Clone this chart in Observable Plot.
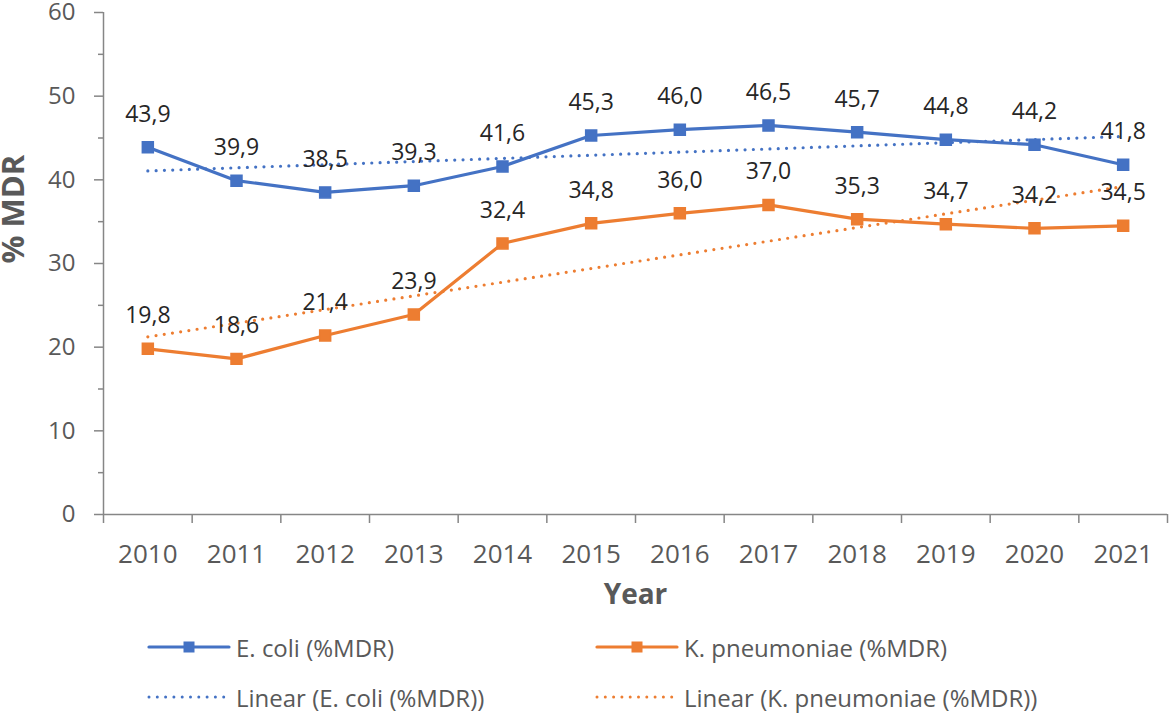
<!DOCTYPE html>
<html>
<head>
<meta charset="utf-8">
<script src="https://cdn.jsdelivr.net/npm/d3@7"></script>
<script src="https://cdn.jsdelivr.net/npm/@observablehq/plot@0.6"></script>
<style>
  body { margin: 0; background: #fff; }
  #wrap { position: relative; width: 1170px; height: 713px; font-family: "Open Sans", sans-serif; }
  .leg { position: absolute; display: flex; align-items: center; font-size: 24px; color: #595959; white-space: nowrap; }
  .leg svg { margin-right: 4px; }
</style>
</head>
<body>
<div id="wrap"></div>
<script>
const years = [2010, 2011, 2012, 2013, 2014, 2015, 2016, 2017, 2018, 2019, 2020, 2021];
const ecoli = [43.9, 39.9, 38.5, 39.3, 41.6, 45.3, 46.0, 46.5, 45.7, 44.8, 44.2, 41.8];
const kpneu = [19.8, 18.6, 21.4, 23.9, 32.4, 34.8, 36.0, 37.0, 35.3, 34.7, 34.2, 34.5];
const seriesNames = ["E. coli (%MDR)", "K. pneumoniae (%MDR)"];
const trendNames = ["Linear (E. coli (%MDR))", "Linear (K. pneumoniae (%MDR))"];
const colors = ["#4472C4", "#ED7D31"];
const yTicks = [0, 10, 20, 30, 40, 50, 60];
const yMinorTicks = [5, 15, 25, 35, 45, 55];

const data = [];
years.forEach((yr, i) => {
  data.push({year: yr, value: ecoli[i], series: seriesNames[0]});
  data.push({year: yr, value: kpneu[i], series: seriesNames[1]});
});
const bounds = [years[0] - 0.5, ...years.map(y => y + 0.5)];
const axisColor = "#868686";
const textColor = "#595959";

const chart = Plot.plot({
  width: 1170,
  height: 620,
  marginLeft: 103,
  marginRight: 3,
  marginTop: 12,
  marginBottom: 106,
  style: {fontFamily: "'Open Sans', sans-serif", background: "#fff", overflow: "visible"},
  x: {type: "linear", domain: [bounds[0], bounds[bounds.length - 1]]},
  y: {domain: [0, 60]},
  color: {domain: seriesNames, range: colors},
  marks: [
    Plot.axisY({ticks: yTicks, tickSize: 9, tickPadding: 19, fontSize: 24, stroke: axisColor, fill: textColor, strokeWidth: 1.5, label: null}),
    Plot.axisY({ticks: yMinorTicks, tickSize: 5, tickFormat: () => "", stroke: axisColor, strokeWidth: 1.5, label: null}),
    Plot.axisX({ticks: bounds, tickSize: 9, tickFormat: () => "", stroke: axisColor, strokeWidth: 1.5, label: null}),
    Plot.axisX({ticks: years, tickSize: 0, tickPadding: 30, tickFormat: d => String(d), fontSize: 26, fill: textColor, label: null}),
    Plot.ruleX([bounds[0]], {stroke: axisColor, strokeWidth: 1.5}),
    Plot.ruleY([0], {stroke: axisColor, strokeWidth: 1.5}),
    Plot.text(["% MDR"], {frameAnchor: "left", rotate: -90, dx: -89, fontSize: 31, fontWeight: "bold", fill: textColor}),
    Plot.text(["Year"], {frameAnchor: "bottom", dy: 89, fontSize: 28, fontWeight: "bold", fill: textColor}),
    Plot.linearRegressionY(data, {x: "year", y: "value", z: "series", stroke: "series", ci: 0, strokeWidth: 3.2, strokeDasharray: "0,8.3", strokeLinecap: "round"}),
    Plot.line(data, {x: "year", y: "value", z: "series", stroke: "series", strokeWidth: 3.2}),
    Plot.dot(data, {x: "year", y: "value", fill: "series", stroke: "series", symbol: "square", r: 6.2}),
    Plot.text(data, {x: "year", y: "value", text: d => d.value.toFixed(1).replace(".", ","), dy: -33, fontSize: 23, fill: "#262626"})
  ]
});
const wrap = document.getElementById("wrap");
wrap.appendChild(chart);

function legendItem(left, top, color, dotted, label) {
  const div = document.createElement("div");
  div.className = "leg";
  div.style.left = left + "px";
  div.style.top = (top - 17) + "px";
  div.style.height = "34px";
  const w = 80;
  let svg = `<svg width="${w + 6}" height="20" viewBox="-3 -10 ${w + 6} 20">`;
  if (dotted) {
    svg += `<line x1="0" y1="0" x2="${w - 4}" y2="0" stroke="${color}" stroke-width="3" stroke-dasharray="0,8.3" stroke-linecap="round"/>`;
  } else {
    svg += `<line x1="0" y1="0" x2="${w}" y2="0" stroke="${color}" stroke-width="3.2" stroke-linecap="round"/>`;
    svg += `<rect x="${w / 2 - 5.5}" y="-5.5" width="11" height="11" fill="${color}"/>`;
  }
  svg += `</svg>`;
  div.innerHTML = svg + `<span>${label}</span>`;
  wrap.appendChild(div);
}
legendItem(146, 647, colors[0], false, seriesNames[0]);
legendItem(594, 647, colors[1], false, seriesNames[1]);
legendItem(146, 697, colors[0], true, trendNames[0]);
legendItem(594, 697, colors[1], true, trendNames[1]);
</script>
</body>
</html>
